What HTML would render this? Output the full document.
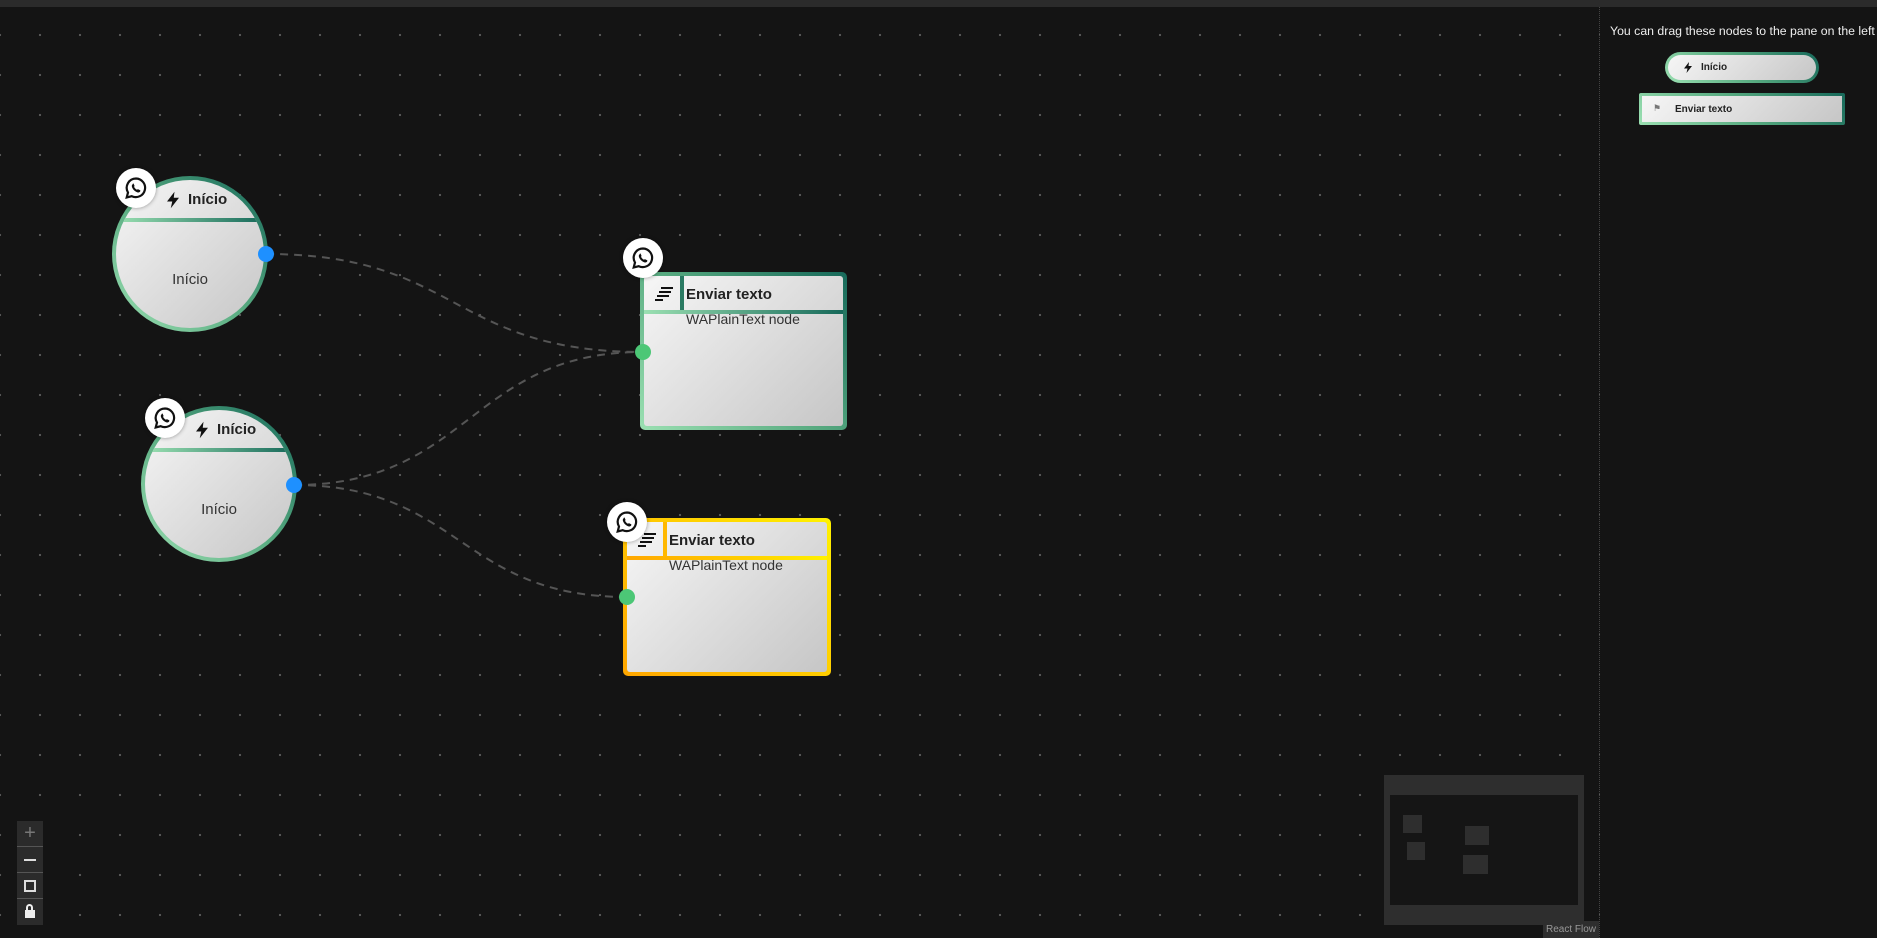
<!DOCTYPE html>
<html><head><meta charset="utf-8"><style>
*{margin:0;padding:0;box-sizing:border-box}
body{width:1877px;height:938px;overflow:hidden;background:#141414;font-family:"Liberation Sans",sans-serif;position:relative}
.grid{position:absolute;left:0;top:7px;width:1600px;height:931px;background-image:radial-gradient(circle,#5a5a5a 1px,transparent 1.3px);background-size:40px 40px;background-position:20px 8px}
.abs{position:absolute}
.gb{background:linear-gradient(45deg,#9be0b2,#56a97f 50%,#17695a)}
.yb{background:linear-gradient(45deg,#ffa600,#ffd000 60%,#fff200)}
.inner{position:absolute;left:4px;top:4px;right:4px;bottom:4px;background:linear-gradient(135deg,#f6f6f6,#c6c6c6)}
.circ{border-radius:50%}
.circ .inner{border-radius:50%;overflow:hidden}
.badge{position:absolute;width:40px;height:40px;border-radius:50%;background:#fff;display:flex;align-items:center;justify-content:center;box-shadow:0 0 4px rgba(0,0,0,.4)}
.h{position:absolute;width:16px;height:16px;border-radius:50%}
.title{font-weight:bold;font-size:15px;color:#222}
</style></head><body>
<div class="abs" style="left:0;top:0;width:1877px;height:7px;background:#2b2b2b"></div>
<div class="grid"></div>
<div class="abs" style="left:1599px;top:7px;width:1px;height:931px;border-left:1px dotted #444"></div>

<svg class="abs" style="left:0;top:0" width="1600" height="938">
<g fill="none" stroke="#555" stroke-width="2" stroke-dasharray="8 6">
<path d="M266 254 C460 254 450 352 643 352"/>
<path d="M294 485 C470 485 470 352 643 352"/>
<path d="M294 485 C460 485 460 597 627 597"/>
</g></svg>

<svg width="0" height="0" style="position:absolute"><defs>
<symbol id="wa" viewBox="0 0 24 24"><path d="M12 2.5a9.3 9.3 0 0 0-8 14l-1.3 5 5.1-1.3A9.3 9.3 0 1 0 12 2.5z" fill="none" stroke="#111" stroke-width="2.2"/><path d="M8.7 7.5c.4-.2.8 0 1 .4l.8 1.8c.1.4-.2.8-.5 1.1.6 1.3 1.7 2.4 3 3 .3-.3.7-.6 1.1-.5l1.8.8c.4.2.6.6.4 1-.4 1.2-1.6 1.6-2.8 1.3-2.6-.8-4.8-3-5.6-5.6-.3-1.200.1-2.4 1.300-2.9z" fill="#111"/></symbol>
<symbol id="bolt" viewBox="0 0 24 24"><path d="M14 1L4 14h7l-2 9 11-14h-7z" fill="#111"/></symbol>
<symbol id="lines" viewBox="0 0 20 16"><g stroke="#111" stroke-width="2"><path d="M7 2h12M5 6h12M3 10h12M1 14h8"/></g></symbol>
</defs></svg>

<!-- circle 1 -->
<div class="abs gb circ" style="left:112px;top:176px;width:156px;height:156px">
 <div class="inner">
  <div class="abs" style="left:0;right:0;top:38px;height:4px;background:linear-gradient(90deg,#9be0b2,#17695a)"></div>
  <svg class="abs" style="left:48px;top:9px" width="18" height="22"><use href="#bolt"/></svg>
  <div class="abs title" style="left:72px;top:11px">Início</div>
  <div class="abs" style="left:0;right:0;top:91px;text-align:center;font-size:15px;color:#333">Início</div>
 </div>
</div>
<div class="badge" style="left:116px;top:168px"><svg width="24" height="24"><use href="#wa"/></svg></div>
<div class="h" style="left:258px;top:246px;background:#1e90ff"></div>

<!-- circle 2 -->
<div class="abs gb circ" style="left:141px;top:406px;width:156px;height:156px">
 <div class="inner">
  <div class="abs" style="left:0;right:0;top:38px;height:4px;background:linear-gradient(90deg,#9be0b2,#17695a)"></div>
  <svg class="abs" style="left:48px;top:9px" width="18" height="22"><use href="#bolt"/></svg>
  <div class="abs title" style="left:72px;top:11px">Início</div>
  <div class="abs" style="left:0;right:0;top:91px;text-align:center;font-size:15px;color:#333">Início</div>
 </div>
</div>
<div class="badge" style="left:145px;top:398px"><svg width="24" height="24"><use href="#wa"/></svg></div>
<div class="h" style="left:286px;top:477px;background:#1e90ff"></div>

<!-- rect 1 -->
<div class="abs gb" style="left:640px;top:272px;width:207px;height:158px;border-radius:5px">
 <div class="inner" style="border-radius:3px">
  <div class="abs" style="left:0;right:0;top:34px;height:4px;background:linear-gradient(90deg,#9be0b2,#17695a)"></div>
  <div class="abs" style="left:36px;top:0;width:4px;height:34px;background:#2a7a62"></div>
  <svg class="abs" style="left:10px;top:10px" width="20" height="16"><use href="#lines"/></svg>
  <div class="abs title" style="left:42px;top:10px">Enviar texto</div>
  <div class="abs" style="left:42px;top:35px;font-size:14px;color:#333">WAPlainText node</div>
 </div>
</div>
<div class="badge" style="left:623px;top:238px"><svg width="24" height="24"><use href="#wa"/></svg></div>
<div class="h" style="left:635px;top:344px;background:#4cc776"></div>

<!-- rect 2 -->
<div class="abs yb" style="left:623px;top:518px;width:208px;height:158px;border-radius:5px">
 <div class="inner" style="border-radius:3px">
  <div class="abs yb" style="left:0;right:0;top:34px;height:4px"></div>
  <div class="abs" style="left:36px;top:0;width:4px;height:34px;background:#ffb800"></div>
  <svg class="abs" style="left:10px;top:10px" width="20" height="16"><use href="#lines"/></svg>
  <div class="abs title" style="left:42px;top:10px">Enviar texto</div>
  <div class="abs" style="left:42px;top:35px;font-size:14px;color:#333">WAPlainText node</div>
 </div>
</div>
<div class="badge" style="left:607px;top:502px"><svg width="24" height="24"><use href="#wa"/></svg></div>
<div class="h" style="left:619px;top:589px;background:#4cc776"></div>

<!-- controls -->
<div class="abs" style="left:17px;top:821px;width:26px;height:104px;background:#2b2b2b">
 <div style="height:26px;border-bottom:1px solid #555;color:#777;text-align:center;font-size:20px;line-height:25px">+</div>
 <div style="height:26px;border-bottom:1px solid #555;position:relative"><div class="abs" style="left:7px;top:12px;width:12px;height:2px;background:#ddd"></div></div>
 <div style="height:26px;border-bottom:1px solid #555;position:relative"><div class="abs" style="left:7px;top:7px;width:12px;height:12px;border:2px dashed #ddd"></div></div>
 <div style="height:26px;position:relative"><div class="abs" style="left:8px;top:11px;width:10px;height:8px;background:#eee"></div><div class="abs" style="left:9px;top:5px;width:7px;height:7px;border:2px solid #eee;border-bottom:none;border-radius:4px 4px 0 0"></div></div>
</div>

<!-- minimap -->
<div class="abs" style="left:1384px;top:775px;width:200px;height:150px;background:#2e2e2e">
 <div class="abs" style="left:6px;top:20px;width:188px;height:110px;background:#151515"></div>
 <div class="abs" style="left:19px;top:40px;width:19px;height:18px;background:#2e2e2e"></div>
 <div class="abs" style="left:23px;top:67px;width:18px;height:18px;background:#2e2e2e"></div>
 <div class="abs" style="left:81px;top:51px;width:24px;height:19px;background:#2e2e2e"></div>
 <div class="abs" style="left:79px;top:80px;width:25px;height:19px;background:#2e2e2e"></div>
</div>
<div class="abs" style="left:1543px;top:921px;width:56px;height:17px;background:#2e2e2e;color:#999;font-size:10px;text-align:center;line-height:17px">React Flow</div>

<!-- sidebar -->
<div class="abs" style="left:1610px;top:24px;font-size:12.3px;color:#eee;white-space:nowrap">You can drag these nodes to the pane on the left</div>
<div class="abs gb" style="left:1665px;top:52px;width:154px;height:31px;border-radius:16px">
 <div class="inner" style="left:3px;top:3px;right:3px;bottom:3px;border-radius:14px"></div>
 <svg class="abs" style="left:17px;top:9px" width="12" height="13"><use href="#bolt"/></svg>
 <div class="abs" style="left:36px;top:10px;font-size:10px;font-weight:bold;color:#222">Início</div>
</div>
<div class="abs gb" style="left:1639px;top:93px;width:206px;height:32px;border-radius:2px">
 <div class="inner" style="left:3px;top:3px;right:3px;bottom:3px"></div>
 <div class="abs" style="left:14px;top:10px;font-size:9px;color:#777">⚑</div>
 <div class="abs" style="left:36px;top:11px;font-size:10px;font-weight:bold;color:#222">Enviar texto</div>
</div>
</body></html>
